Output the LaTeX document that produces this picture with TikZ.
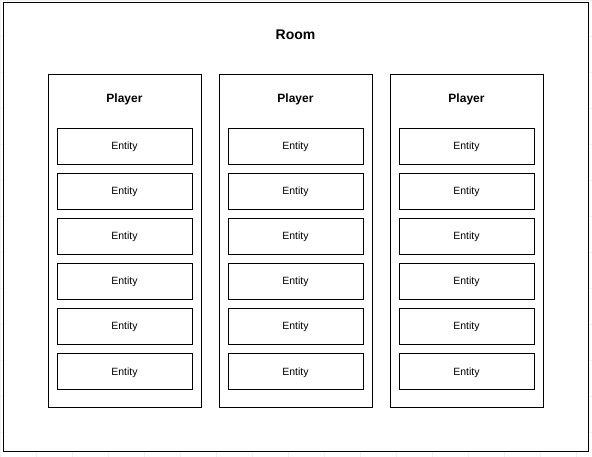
\documentclass[tikz,border=0pt]{standalone}
\usepackage{fontspec}
\setmainfont{Liberation Sans}
\usetikzlibrary{positioning}
\begin{document}
\begin{tikzpicture}[x=1pt,y=-1pt,node distance=9pt,
box/.style={
% The shape:
rectangle,
draw=black,
line width=0.9pt,
fill=white,
inner sep=0pt,
outer sep=0pt
},
entity/.style={
box,
minimum width=135pt,
minimum height=36pt,
text height=8pt,
text depth=0pt,
font=\fontsize{10.5}{12}\selectfont
},
player/.style={
box,
anchor=north west,
minimum width=153pt,
minimum height=333pt
},
title/.style={font=\bfseries\fontsize{12}{14}\selectfont}
]
\useasboundingbox (0,0) rectangle (592,457);
% faint background grid
\draw[gray!12,line width=0.5pt] (0,0) grid[step=36pt] (592,457);
\node (room) [box,anchor=north west,minimum width=585pt,minimum height=449pt] at (3,2) {};
\node (roomlabel) [title,font=\bfseries\fontsize{14}{16}\selectfont] at (295.5,35) {Room};
\foreach \i/\x in {1/48,2/219,3/390} {
\node (player\i) [player] at (\x,74) {};
\node (playerlabel\i) [title,below=16pt of player\i.north] {Player};
\node (entity\i-1) [entity,below=54pt of player\i.north] {Entity};
\foreach \j [count=\k from 1] in {2,...,6} {
\node (entity\i-\j) [entity,below=of entity\i-\k] {Entity};
}
}
\end{tikzpicture}
\end{document}
